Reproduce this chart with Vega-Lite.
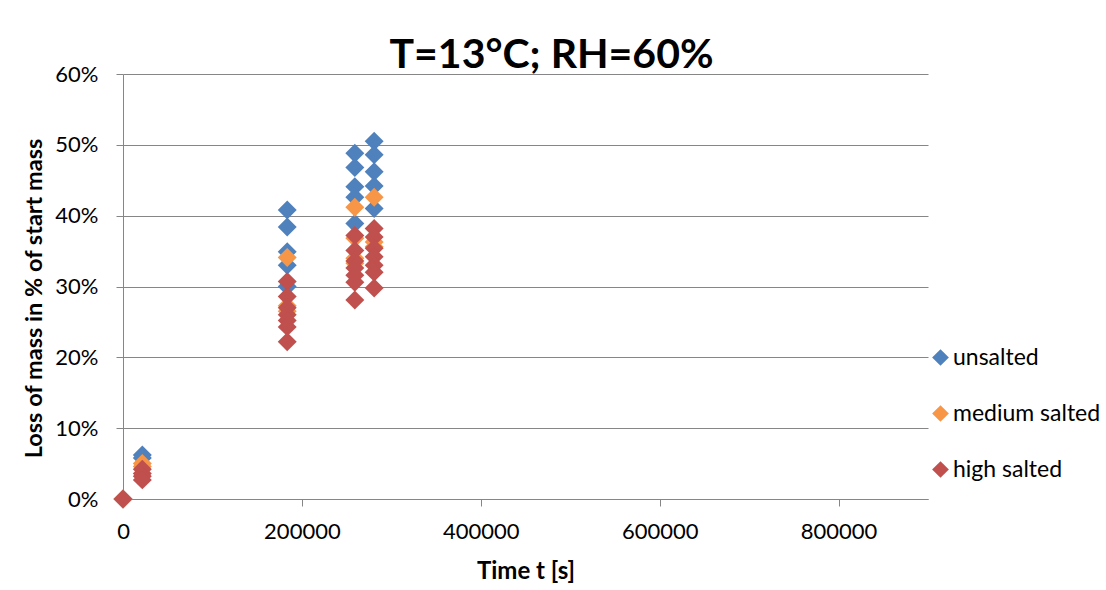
{
  "$schema": "https://vega.github.io/schema/vega-lite/v6.json",
  "width": 805,
  "height": 425,
  "autosize": {"type": "none"},
  "padding": {"left": 123, "top": 74, "right": 178, "bottom": 91},
  "background": "white",
  "title": {"text": "T=13°C; RH=60%", "font": "Lato", "fontSize": 41, "fontWeight": "bold", "color": "#000000", "anchor": "middle", "dx": 26, "dy": 59, "offset": 4, "baseline": "bottom"},
  "data": {"values": [
    {"t": 0, "loss": 0, "series": "unsalted"},
    {"t": 21600, "loss": 0.062, "series": "unsalted"},
    {"t": 21600, "loss": 0.058, "series": "unsalted"},
    {"t": 183600, "loss": 0.408, "series": "unsalted"},
    {"t": 183600, "loss": 0.384, "series": "unsalted"},
    {"t": 183600, "loss": 0.349, "series": "unsalted"},
    {"t": 183600, "loss": 0.330, "series": "unsalted"},
    {"t": 183600, "loss": 0.300, "series": "unsalted"},
    {"t": 259200, "loss": 0.488, "series": "unsalted"},
    {"t": 259200, "loss": 0.468, "series": "unsalted"},
    {"t": 259200, "loss": 0.441, "series": "unsalted"},
    {"t": 259200, "loss": 0.426, "series": "unsalted"},
    {"t": 259200, "loss": 0.389, "series": "unsalted"},
    {"t": 280800, "loss": 0.505, "series": "unsalted"},
    {"t": 280800, "loss": 0.486, "series": "unsalted"},
    {"t": 280800, "loss": 0.462, "series": "unsalted"},
    {"t": 280800, "loss": 0.442, "series": "unsalted"},
    {"t": 280800, "loss": 0.410, "series": "unsalted"},
    {"t": 0, "loss": 0, "series": "medium salted"},
    {"t": 21600, "loss": 0.050, "series": "medium salted"},
    {"t": 21600, "loss": 0.046, "series": "medium salted"},
    {"t": 183600, "loss": 0.341, "series": "medium salted"},
    {"t": 183600, "loss": 0.273, "series": "medium salted"},
    {"t": 183600, "loss": 0.265, "series": "medium salted"},
    {"t": 259200, "loss": 0.412, "series": "medium salted"},
    {"t": 259200, "loss": 0.368, "series": "medium salted"},
    {"t": 259200, "loss": 0.340, "series": "medium salted"},
    {"t": 259200, "loss": 0.333, "series": "medium salted"},
    {"t": 280800, "loss": 0.426, "series": "medium salted"},
    {"t": 280800, "loss": 0.363, "series": "medium salted"},
    {"t": 280800, "loss": 0.356, "series": "medium salted"},
    {"t": 0, "loss": 0, "series": "high salted"},
    {"t": 21600, "loss": 0.042, "series": "high salted"},
    {"t": 21600, "loss": 0.036, "series": "high salted"},
    {"t": 21600, "loss": 0.032, "series": "high salted"},
    {"t": 21600, "loss": 0.027, "series": "high salted"},
    {"t": 183600, "loss": 0.307, "series": "high salted"},
    {"t": 183600, "loss": 0.286, "series": "high salted"},
    {"t": 183600, "loss": 0.270, "series": "high salted"},
    {"t": 183600, "loss": 0.260, "series": "high salted"},
    {"t": 183600, "loss": 0.252, "series": "high salted"},
    {"t": 183600, "loss": 0.243, "series": "high salted"},
    {"t": 183600, "loss": 0.222, "series": "high salted"},
    {"t": 259200, "loss": 0.372, "series": "high salted"},
    {"t": 259200, "loss": 0.351, "series": "high salted"},
    {"t": 259200, "loss": 0.336, "series": "high salted"},
    {"t": 259200, "loss": 0.326, "series": "high salted"},
    {"t": 259200, "loss": 0.316, "series": "high salted"},
    {"t": 259200, "loss": 0.306, "series": "high salted"},
    {"t": 259200, "loss": 0.281, "series": "high salted"},
    {"t": 280800, "loss": 0.382, "series": "high salted"},
    {"t": 280800, "loss": 0.370, "series": "high salted"},
    {"t": 280800, "loss": 0.354, "series": "high salted"},
    {"t": 280800, "loss": 0.342, "series": "high salted"},
    {"t": 280800, "loss": 0.330, "series": "high salted"},
    {"t": 280800, "loss": 0.320, "series": "high salted"},
    {"t": 280800, "loss": 0.298, "series": "high salted"}
  ]},
  "mark": {"type": "point", "shape": "diamond", "filled": true, "opacity": 1, "size": 360, "strokeWidth": 0},
  "encoding": {
    "x": {"field": "t", "type": "quantitative",
      "scale": {"domain": [0, 900000], "nice": false},
      "axis": {"title": "Time t [s]", "values": [0, 200000, 400000, 600000, 800000], "format": "d", "grid": false,
        "labelFont": "Lato", "labelFontSize": 22, "labelColor": "#000000", "labelPadding": 15,
        "titleFont": "Lato", "titleFontSize": 24, "titleFontWeight": "bold", "titleColor": "#000000", "titlePadding": 17,
        "domainColor": "#868686", "tickColor": "#868686", "tickSize": 7, "labelFlush": false}},
    "y": {"field": "loss", "type": "quantitative",
      "scale": {"domain": [0, 0.6], "nice": false},
      "axis": {"title": "Loss of mass in % of start mass", "values": [0, 0.1, 0.2, 0.3, 0.4, 0.5, 0.6], "format": ".0%",
        "grid": true, "gridColor": "#868686", "gridWidth": 1,
        "labelFont": "Lato", "labelFontSize": 22, "labelColor": "#000000", "labelPadding": 18,
        "titleFont": "Lato", "titleFontSize": 23.5, "titleFontWeight": "bold", "titleColor": "#000000", "titlePadding": 8, "titleY": 224,
        "domainColor": "#868686", "tickColor": "#868686", "tickSize": 7}},
    "color": {"field": "series", "type": "nominal",
      "scale": {"domain": ["unsalted", "medium salted", "high salted"], "range": ["#4F81BD", "#F79646", "#C0504D"]},
      "legend": {"title": null, "orient": "none", "legendX": 806, "legendY": 272, "symbolType": "diamond", "symbolSize": 280,
        "symbolStrokeWidth": 0, "labelFont": "Lato", "labelFontSize": 23, "labelColor": "#000000", "rowPadding": 32, "labelOffset": 1}}
  },
  "config": {"view": {"stroke": null}}
}
